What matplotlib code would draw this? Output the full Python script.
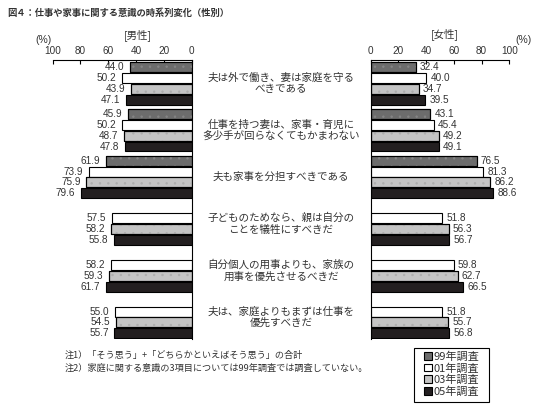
import numpy as np
import matplotlib
matplotlib.use("Agg")
import matplotlib.pyplot as plt
from matplotlib.patches import Patch, Rectangle
import matplotlib.transforms as mtrans

plt.rcParams['font.family'] = ['Noto Sans CJK JP', 'DejaVu Sans']
plt.rcParams['hatch.linewidth'] = 0.5

categories = [
    "夫は外で働き、妻は家庭を守る\nべきである",
    "仕事を持つ妻は、家事・育児に\n多少手が回らなくてもかまわない",
    "夫も家事を分担すべきである",
    "子どものためなら、親は自分の\nことを犠牲にすべきだ",
    "自分個人の用事よりも、家族の\n用事を優先させるべきだ",
    "夫は、家庭よりもまずは仕事を\n優先すべきだ",
]
series_names = ["99年調査", "01年調査", "03年調査", "05年調査"]
nan = np.nan
male = {
    "99年調査": [44.0, 45.9, 61.9, nan, nan, nan],
    "01年調査": [50.2, 50.2, 73.9, 57.5, 58.2, 55.0],
    "03年調査": [43.9, 48.7, 75.9, 58.2, 59.3, 54.5],
    "05年調査": [47.1, 47.8, 79.6, 55.8, 61.7, 55.7],
}
female = {
    "99年調査": [32.4, 43.1, 76.5, nan, nan, nan],
    "01年調査": [40.0, 45.4, 81.3, 51.8, 59.8, 51.8],
    "03年調査": [34.7, 49.2, 86.2, 56.3, 62.7, 55.7],
    "05年調査": [39.5, 49.1, 88.6, 56.7, 66.5, 56.8],
}
ticks = [0, 20, 40, 60, 80, 100]

colors = ["#6c6c6c", "#ffffff", "#c4c4c4", "#231f20"]
hatch_colors = ["#858585", None, "#adadad", None]
txt = "#333333"
numfont = ['Liberation Sans', 'DejaVu Sans']

W, H = 536, 408
fig = plt.figure(figsize=(W / 100, H / 100), dpi=100)
fig.patch.set_facecolor("white")

top_px, bot_px = 60.5, 339.0
axL = fig.add_axes([52.7 / W, (H - bot_px) / H, (191.5 - 52.7) / W, (bot_px - top_px) / H])
axR = fig.add_axes([370.7 / W, (H - bot_px) / H, (509.3 - 370.7) / W, (bot_px - top_px) / H])

P = 4.32
nG = len(categories)
ylim = (-0.14 + 25.77, -0.14)

for ax, data, side in [(axL, male, "L"), (axR, female, "R")]:
    for i, name in enumerate(series_names):
        vals = np.array(data[name], dtype=float)
        ys = np.arange(nG) * P + i + 0.5
        mask = ~np.isnan(vals)
        ax.barh(ys[mask], vals[mask], height=0.92, color=colors[i],
                edgecolor="black", linewidth=0.8, zorder=2)
        if hatch_colors[i] is not None:
            ax.barh(ys[mask], vals[mask], height=0.92, facecolor="none",
                    edgecolor=hatch_colors[i], linewidth=0, hatch="..", zorder=3)
            ax.barh(ys[mask], vals[mask], height=0.92, facecolor="none",
                    edgecolor="black", linewidth=0.8, zorder=4)
        for y, v in zip(ys[mask], vals[mask]):
            if side == "L":
                ax.annotate(f"{v:.1f}", (v, y), xytext=(-4, 0), textcoords="offset points",
                            ha="right", va="center", fontsize=7.2, color=txt,
                            family=numfont, annotation_clip=False)
            else:
                ax.annotate(f"{v:.1f}", (v, y), xytext=(3, 0), textcoords="offset points",
                            ha="left", va="center", fontsize=7.2, color=txt,
                            family=numfont, annotation_clip=False)
    ax.set_ylim(*ylim)
    ax.set_yticks([])
    ax.xaxis.tick_top()
    ax.set_xticks(ticks)
    ax.set_xticklabels([str(t) for t in ticks], family=numfont, fontsize=7.2, color=txt)
    ax.tick_params(axis="x", direction="in", length=3, width=0.8, pad=3, top=True, bottom=False)
    for s in ax.spines.values():
        s.set_linewidth(0.8)
        s.set_color("black")
    ax.spines["bottom"].set_visible(False)
    ax.patch.set_alpha(0)

axL.set_xlim(100, 0)
axL.spines["left"].set_visible(False)
axR.set_xlim(0, 100)
axR.spines["right"].set_visible(False)

# category labels centered between axes
tr = mtrans.blended_transform_factory(fig.transFigure, axL.transData)
for g, cat in enumerate(categories):
    yc = g * P + 2.0
    fig.text(281 / W, yc, cat, transform=tr, ha="center", va="center",
             fontsize=7.6, color=txt, linespacing=1.15)

# title and headers
fig.text(7 / W, 1 - 13 / H, "図４：仕事や家事に関する意識の時系列変化（性別）",
         ha="left", va="center", fontsize=6.7, fontweight="bold", color=txt)
fig.text(138 / W, 1 - 35 / H, "[男性]", ha="center", va="center", fontsize=7.5, color=txt)
fig.text(445 / W, 1 - 34 / H, "[女性]", ha="center", va="center", fontsize=7.5, color=txt)
fig.text(43 / W, 1 - 40 / H, "(%)", ha="center", va="center", fontsize=7.5, color=txt, family=numfont)
fig.text(523 / W, 1 - 40 / H, "(%)", ha="center", va="center", fontsize=7.5, color=txt, family=numfont)

# notes
fig.text(65 / W, 1 - 355 / H, "注1）「そう思う」+「どちらかといえばそう思う」の合計",
         ha="left", va="center", fontsize=6.6, color=txt)
fig.text(65 / W, 1 - 368 / H, "注2）家庭に関する意識の3項目については99年調査では調査していない。",
         ha="left", va="center", fontsize=6.6, color=txt)

# legend
fig.patches.append(Rectangle((414 / W, 1 - 402 / H), 75 / W, 54 / H, transform=fig.transFigure,
                             facecolor="white", edgecolor="black", linewidth=0.8, zorder=1))
handles = [Patch(facecolor=c, edgecolor="black", linewidth=0.8) for c in colors]
leg = fig.legend(handles, series_names, loc="upper left",
                 bbox_to_anchor=(422 / W, 1 - 349 / H), frameon=False,
                 fontsize=8, handlelength=0.7, handleheight=0.7,
                 handletextpad=0.15, labelspacing=0.12, borderpad=0.2, borderaxespad=0)
for t in leg.get_texts():
    t.set_color(txt)

fig.savefig("out.png", dpi=100, facecolor="white")
